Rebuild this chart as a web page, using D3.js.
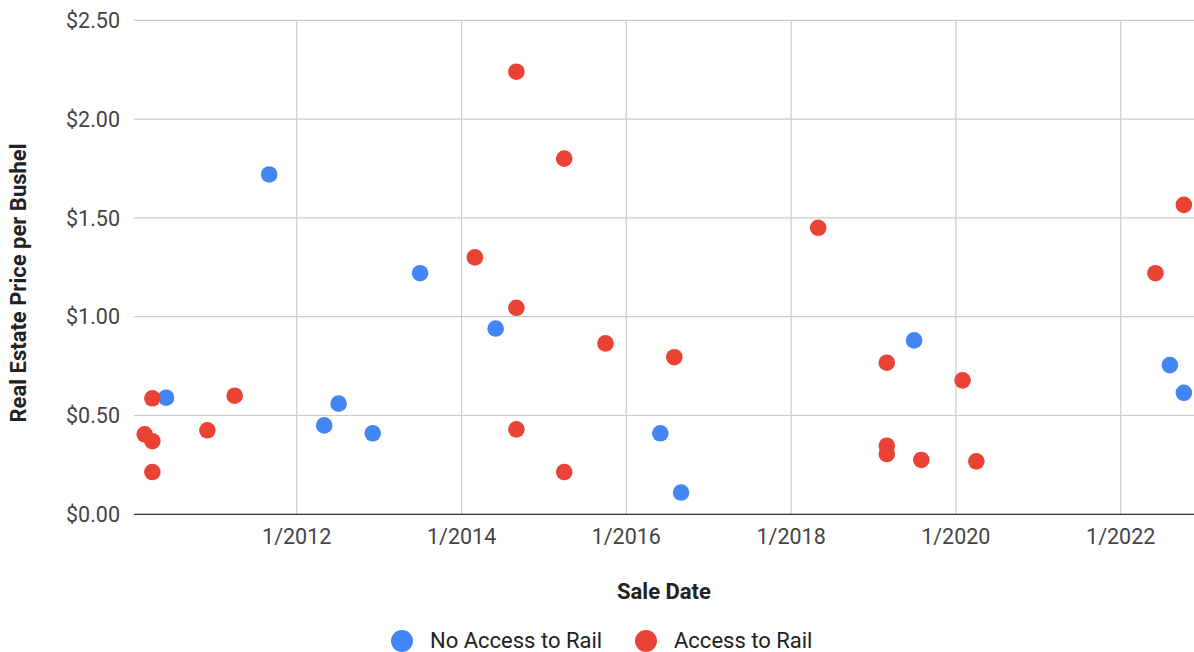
<!DOCTYPE html>
<html>
<head>
<meta charset="utf-8">
<script src="https://cdn.jsdelivr.net/npm/d3@7"></script>
<style>
  body { margin: 0; background: #fff; }
  text { font-family: Roboto, "Noto Sans", sans-serif; }
</style>
</head>
<body>
<div id="chart"></div>
<script>
// sale dates and price per bushel
var noRailDates = ["2010-06-01", "2011-09-01", "2012-05-02", "2012-07-05", "2012-12-03", "2013-07-01",
  "2014-06-01", "2016-05-31", "2016-08-31", "2019-06-30", "2022-08-07", "2022-10-08"];
var noRailPrices = [0.59, 1.72, 0.45, 0.56, 0.41, 1.22, 0.94, 0.41, 0.11, 0.88, 0.755, 0.615];

var railDates = ["2010-02-26", "2010-04-01", "2010-04-01", "2010-04-01", "2010-12-01", "2011-04-01",
  "2014-03-01", "2014-09-01", "2014-09-01", "2014-09-01", "2015-04-01", "2015-04-01", "2015-10-01",
  "2016-08-01", "2018-05-01", "2019-03-01", "2019-03-01", "2019-03-01", "2019-08-01", "2020-01-31",
  "2020-04-01", "2022-06-04", "2022-10-08"];
var railPrices = [0.405, 0.37, 0.587, 0.214, 0.425, 0.60, 1.30, 2.24, 1.045, 0.43, 1.80, 0.214, 0.865,
  0.795, 1.45, 0.767, 0.347, 0.305, 0.275, 0.678, 0.268, 1.22, 1.566];

var yTicks = [0, 0.5, 1, 1.5, 2, 2.5];
var seriesNames = ["No Access to Rail", "Access to Rail"];
var colors = ["#4285f4", "#ea4335"];

var W = 1194, H = 652;
var plotLeft = 134, plotRight = 1194, plotTop = 20.3, plotBottom = 514.3;
var fontSize = "21.5px";

var svg = d3.select("#chart").append("svg")
  .attr("width", W)
  .attr("height", H);

var parse = d3.timeParse("%Y-%m-%d");

// anchor the time scale on two gridlines, then stretch to plot edges
var x = d3.scaleTime()
  .domain([new Date(2012, 0, 1), new Date(2022, 0, 1)])
  .range([296.7, 1120.7]);
x.domain([x.invert(plotLeft), x.invert(plotRight)]).range([plotLeft, plotRight]);

var y = d3.scaleLinear().domain([0, 2.5]).range([plotBottom, plotTop]);

// horizontal grid
svg.append("g")
  .selectAll("line")
  .data(yTicks.slice(1))
  .enter()
  .append("line")
  .attr("x1", plotLeft)
  .attr("x2", plotRight)
  .attr("y1", (d) => y(d))
  .attr("y2", (d) => y(d))
  .attr("stroke", "#cccccc")
  .attr("stroke-width", 1.2);

// vertical grid
var xTicks = x.ticks(d3.timeYear.every(2));
svg.append("g")
  .selectAll("line")
  .data(xTicks)
  .enter()
  .append("line")
  .attr("x1", (d) => x(d))
  .attr("x2", (d) => x(d))
  .attr("y1", plotTop)
  .attr("y2", plotBottom)
  .attr("stroke", "#cccccc")
  .attr("stroke-width", 1.2);

// baseline
svg.append("line")
  .attr("x1", plotLeft)
  .attr("x2", plotRight)
  .attr("y1", y(0))
  .attr("y2", y(0))
  .attr("stroke", "#333333")
  .attr("stroke-width", 1.2);

// y tick labels
var fmt = d3.format("$.2f");
svg.append("g")
  .selectAll("text")
  .data(yTicks)
  .enter()
  .append("text")
  .attr("x", 120)
  .attr("y", (d) => y(d))
  .attr("dy", "0.36em")
  .attr("text-anchor", "end")
  .attr("fill", "#444")
  .style("font-size", fontSize)
  .text((d) => fmt(d));

// x tick labels
svg.append("g")
  .selectAll("text")
  .data(xTicks)
  .enter()
  .append("text")
  .attr("x", (d) => x(d))
  .attr("y", 544)
  .attr("text-anchor", "middle")
  .attr("fill", "#444")
  .style("font-size", fontSize)
  .text(d3.timeFormat("1/%Y"));

// axis titles
svg.append("text")
  .attr("x", (plotLeft + plotRight) / 2)
  .attr("y", 599)
  .attr("text-anchor", "middle")
  .style("font-size", "22px")
  .style("font-weight", "bold")
  .attr("fill", "#222")
  .text("Sale Date");

svg.append("text")
  .attr("transform", "translate(26,283) rotate(-90)")
  .attr("text-anchor", "middle")
  .style("font-size", "22px")
  .style("font-weight", "bold")
  .attr("fill", "#222")
  .text("Real Estate Price per Bushel");

// points
var blue = noRailDates.map((d, i) => ({ date: parse(d), value: noRailPrices[i] }));
var red = railDates.map((d, i) => ({ date: parse(d), value: railPrices[i] }));

[blue, red].forEach(function (pts, k) {
  svg.append("g")
    .selectAll("circle")
    .data(pts)
    .enter()
    .append("circle")
    .attr("cx", (d) => x(d.date))
    .attr("cy", (d) => y(d.value))
    .attr("r", 8.3)
    .attr("fill", colors[k]);
});

// legend
var legendX = [402, 646];
var lg = svg.append("g");
seriesNames.forEach(function (name, i) {
  lg.append("circle")
    .attr("cx", legendX[i])
    .attr("cy", 641)
    .attr("r", 11)
    .attr("fill", colors[i]);
  lg.append("text")
    .attr("x", legendX[i] + 28)
    .attr("y", 648)
    .attr("fill", "#222")
    .style("font-size", "22px")
    .text(name);
});
</script>
</body>
</html>
